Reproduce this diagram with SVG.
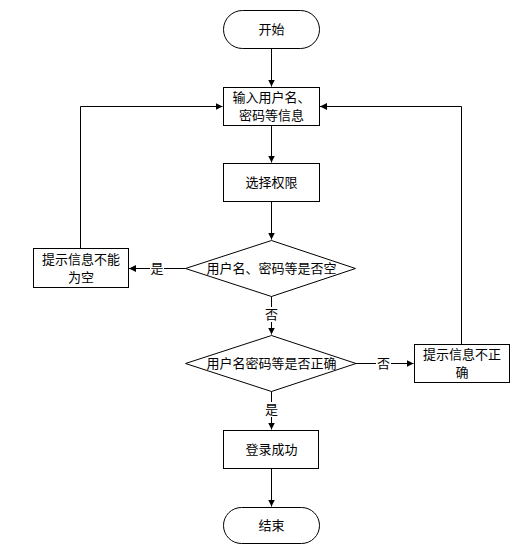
<svg xmlns="http://www.w3.org/2000/svg" width="524" height="551" viewBox="0 0 524 551">
<style>
.s{fill:#fff;stroke:#000;stroke-width:1}
.t{font-family:"Liberation Sans","Noto Sans CJK SC",sans-serif;font-size:13px;fill:#000;text-anchor:middle;dominant-baseline:central}
.c{fill:none;stroke:#000;stroke-width:1}
</style>
<defs>
<marker id="a" markerWidth="8" markerHeight="8" refX="7" refY="4" orient="auto" markerUnits="userSpaceOnUse">
<path d="M0,0.5 L7,4 L0,7.5 Z" fill="#000"/>
</marker>
</defs>
<rect width="524" height="551" fill="#fff"/>
<g id="connectors">
<path class="c" d="M271.5,49 V86.5" marker-end="url(#a)"/>
<path class="c" d="M271.5,126 V162.5" marker-end="url(#a)"/>
<path class="c" d="M271.5,201 V239.5" marker-end="url(#a)"/>
<path class="c" d="M185.5,268.5 H129" marker-end="url(#a)"/>
<path class="c" d="M80.5,248 V106.5 H222.5" marker-end="url(#a)"/>
<path class="c" d="M271.5,296 V334.5" marker-end="url(#a)"/>
<path class="c" d="M356,363.5 H413.5" marker-end="url(#a)"/>
<path class="c" d="M461.5,344 V106.5 H320" marker-end="url(#a)"/>
<path class="c" d="M271.5,391 V429.5" marker-end="url(#a)"/>
<path class="c" d="M271.5,468 V506.5" marker-end="url(#a)"/>
<rect x="150" y="261" width="14" height="15" fill="#fff"/>
<text class="t" x="157" y="268.5">是</text>
<rect x="264" y="307" width="15" height="15" fill="#fff"/>
<text class="t" x="271.5" y="314.5">否</text>
<rect x="376" y="356" width="15" height="15" fill="#fff"/>
<text class="t" x="383.5" y="363.5">否</text>
<rect x="264" y="402" width="15" height="15" fill="#fff"/>
<text class="t" x="271.5" y="409.5">是</text>
</g>
<g id="start">
<rect class="s" x="223.5" y="10.5" width="96" height="38" rx="19" ry="19"/>
<text class="t" x="271.5" y="29.5">开始</text>
</g>
<g id="input">
<rect class="s" x="223.5" y="87.5" width="96" height="38"/>
<text class="t" x="271.5" y="97.5">输入用户名、</text>
<text class="t" x="271.5" y="115.5">密码等信息</text>
</g>
<g id="select">
<rect class="s" x="223.5" y="163.5" width="96" height="38"/>
<text class="t" x="271.5" y="182.5">选择权限</text>
</g>
<g id="check-empty">
<polygon class="s" points="271.5,240.5 355.5,268.5 271.5,296.5 185.5,268.5"/>
<text class="t" x="271.5" y="268.5">用户名、密码等是否空</text>
</g>
<g id="empty-msg">
<rect class="s" x="33.5" y="248.5" width="95" height="39"/>
<text class="t" x="81" y="259">提示信息不能</text>
<text class="t" x="81" y="277">为空</text>
</g>
<g id="check-correct">
<polygon class="s" points="271.5,335.5 356,363.5 271.5,391.5 185.5,363.5"/>
<text class="t" x="271.5" y="363.5">用户名密码等是否正确</text>
</g>
<g id="wrong-msg">
<rect class="s" x="414.5" y="344.5" width="95" height="38"/>
<text class="t" x="462" y="354.5">提示信息不正</text>
<text class="t" x="462" y="372.5">确</text>
</g>
<g id="success">
<rect class="s" x="223.5" y="430.5" width="95" height="38"/>
<text class="t" x="271.5" y="449.5">登录成功</text>
</g>
<g id="end">
<rect class="s" x="223.5" y="507.5" width="96" height="36" rx="18" ry="18"/>
<text class="t" x="271.5" y="525.5">结束</text>
</g>
</svg>
